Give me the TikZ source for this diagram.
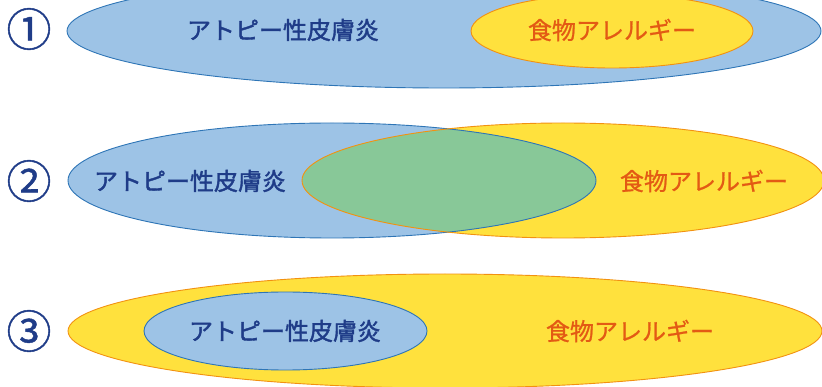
\documentclass[tikz,border=0pt]{standalone}
\usepackage{fontspec}
\newfontfamily\jp{Noto Sans CJK JP}
\newfontfamily\jpmed[FakeBold=1.6]{Noto Sans CJK JP}
\newfontfamily\jpsemi[FakeBold=0.9]{Noto Sans CJK JP}
\definecolor{bfill}{HTML}{9DC3E6}
\definecolor{bline}{HTML}{2E75B6}
\definecolor{yfill}{HTML}{FFE13D}
\definecolor{yline}{HTML}{F29111}
\definecolor{gfill}{HTML}{88C898}
\definecolor{btext}{HTML}{1F3C88}
\definecolor{otext}{HTML}{E35A14}
\tikzset{
  bluezone/.style={fill=bfill,draw=bline,line width=0.9pt},
  yellowzone/.style={fill=yfill,draw=yline,line width=0.9pt},
  atext/.style={font=\jpmed\fontsize{24pt}{24pt}\selectfont,text=btext,inner sep=0pt},
  ftext/.style={font=\jpsemi\fontsize{24pt}{24pt}\selectfont,text=otext,inner sep=0pt},
  numtext/.style={font=\jpsemi\fontsize{45pt}{45pt}\selectfont,text=btext,inner sep=0pt}
}
\begin{document}
\begin{tikzpicture}[x=1pt,y=-1pt]
\useasboundingbox (0,0) rectangle (822,387);
\clip (0,0) rectangle (822,387);
% row 1
\path[bluezone] (444,31) ellipse [x radius=377pt, y radius=57pt];
\path[yellowzone] (612,31) ellipse [x radius=141pt, y radius=37pt];
\node[atext] (a1) at (283,30) {アトピー性皮膚炎};
\node[ftext] (f1) at (612,30) {食物アレルギー};
\node[numtext] (n1) at (29,29) {①};
% row 2
\fill[bfill] (332,180.5) ellipse [x radius=264pt, y radius=57.5pt];
\fill[yfill] (563,180.5) ellipse [x radius=261pt, y radius=57.5pt];
\begin{scope}
  \clip (332,180.5) ellipse [x radius=264pt, y radius=57.5pt];
  \fill[gfill] (563,180.5) ellipse [x radius=261pt, y radius=57.5pt];
\end{scope}
\draw[draw=bline,line width=0.9pt] (332,180.5) ellipse [x radius=264pt, y radius=57.5pt];
\draw[draw=yline,line width=0.9pt] (563,180.5) ellipse [x radius=261pt, y radius=57.5pt];
\node[atext] (a2) at (190,181) {アトピー性皮膚炎};
\node[ftext] (f2) at (704,181) {食物アレルギー};
\node[numtext] (n2) at (29,181) {②};
% row 3
\path[yellowzone] (445,331) ellipse [x radius=377pt, y radius=57pt];
\path[bluezone] (285.5,331) ellipse [x radius=141.5pt, y radius=39pt];
\node[atext] (a3) at (285,331) {アトピー性皮膚炎};
\node[ftext] (f3) at (630,331) {食物アレルギー};
\node[numtext] (n3) at (29,331) {③};
\end{tikzpicture}
\end{document}
